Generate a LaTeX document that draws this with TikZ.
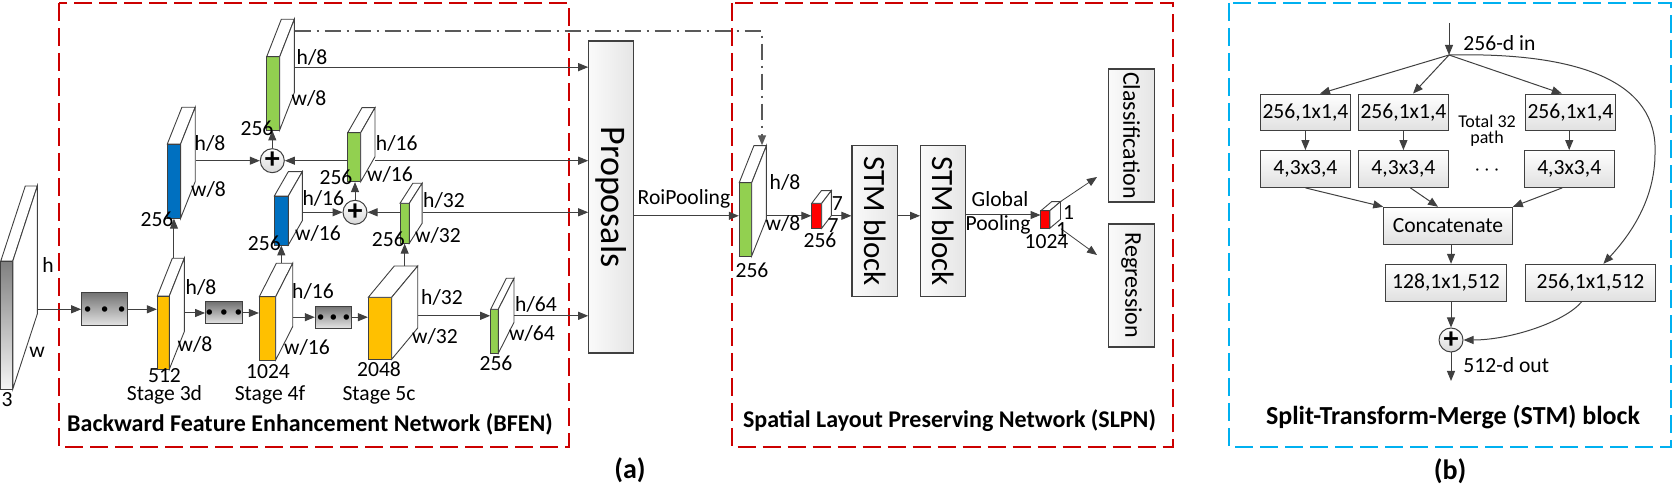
\documentclass[tikz,border=0pt]{standalone}
\usepackage{fontspec}
\setmainfont{Carlito}
\usepackage{graphicx}
\usetikzlibrary{arrows.meta,fit,positioning}
\definecolor{bfenred}{RGB}{204,0,0}
\definecolor{stmblue}{RGB}{0,176,240}
\definecolor{stageorange}{RGB}{255,192,0}
\definecolor{fmapgreen}{RGB}{146,208,80}
\definecolor{fmapblue}{RGB}{0,112,192}
\definecolor{fmapred}{RGB}{255,0,0}
\definecolor{linegray}{RGB}{64,64,64}

% feature map block: name, x, y (front top left), width, height, depth dx, depth dy, fill
\newcommand{\fmap}[8]{%
	\draw[fmapline,#8] (#2,#3) rectangle ++(#4,#5);
	\draw[fmapline,fill=white] (#2,#3) -- ++(#6,#7) -- ++(#4,0) -- ({#2+#4},#3) -- cycle;
	\draw[fmapline,fill=white] ({#2+#4},#3) -- ++(#6,#7) -- ++(0,#5) -- ({#2+#4},{#3+#5}) -- cycle;
	\node[fit={(#2,#3) ({#2+#4},{#3+#5})},inner sep=0pt] (#1) {};
	\node[fit={(#2,{#3+#7}) ({#2+#4+#6},{#3+#5})},inner sep=0pt] (#1-b) {};
}
\newcommand{\threedots}[1]{\fontsize{6}{6}\selectfont$\bullet$\hspace{#1}$\bullet$\hspace{#1}$\bullet$}

\begin{document}
\begin{tikzpicture}[x=0.5pt,y=-0.5pt,font=\fontsize{10.8}{12}\selectfont,
	fmapline/.style={draw=linegray,line width=0.45pt},
	arrowline/.style={draw=linegray,line width=0.5pt,-{Triangle[length=5pt,width=4pt]}}]
	\tikzstyle{annot}=[inner sep=0pt]
	\tikzstyle{dotsbox}=[draw=linegray,line width=0.5pt,top color=black!55,bottom color=black!10,inner sep=0pt]
	\tikzstyle{graybox}=[draw=linegray,line width=0.6pt,left color=black!2,right color=black!10,inner sep=0pt]
	\tikzstyle{stmunit}=[draw=linegray,line width=0.5pt,top color=white,bottom color=black!12,minimum height=18.4pt,inner sep=0pt]
	\tikzstyle{sumnode}=[circle,draw=linegray,line width=0.5pt,top color=white,bottom color=black!15,minimum size=12pt,inner sep=0pt,font=\fontsize{15}{15}\selectfont\bfseries]
	\tikzstyle{groupbox}=[line width=1pt,dash pattern=on 9pt off 3.5pt]
	\tikzstyle{title}=[inner sep=0pt,font=\fontsize{12}{14}\selectfont\bfseries]
	\tikzstyle{skipline}=[draw=black!65,line width=0.7pt,dash pattern=on 8pt off 3pt on 1pt off 3pt]

	\useasboundingbox (0,0) rectangle (1673,490);

	% Draw the group frames
	\draw[groupbox,draw=bfenred] (59,3) rectangle (569,447);
	\draw[groupbox,draw=bfenred] (731.5,3) rectangle (1173,447);
	\draw[groupbox,draw=stmblue] (1229,3) rectangle (1671,447);

	% Draw the backbone
	\fmap{in}{0.8}{261}{12}{128}{24.5}{-75}{top color=black!50,bottom color=black!4}
	\node[dotsbox,minimum width=23pt,minimum height=16.7pt] (d1) at (104.7,309.3) {\threedots{4.7pt}};
	\fmap{s3d}{157.3}{296}{12}{73.3}{15}{-37.7}{fill=stageorange}
	\node[dotsbox,minimum width=18.3pt,minimum height=11pt] (d2) at (223.9,313) {\threedots{3.4pt}};
	\fmap{s4f}{259.3}{296.7}{16.4}{63.3}{17}{-33.4}{fill=stageorange}
	\node[dotsbox,minimum width=18.2pt,minimum height=11.1pt] (d3) at (333.5,317.2) {\threedots{2.6pt}};
	\fmap{s5c}{368.3}{297.3}{23.4}{62}{26}{-31.3}{fill=stageorange}
	\fmap{g64}{490.6}{309.3}{7.7}{44}{15.7}{-31}{fill=fmapgreen}

	% Draw the backward branch
	\fmap{b8}{167.3}{144}{13.3}{74.3}{14.6}{-36.7}{fill=fmapblue}
	\fmap{g8}{266.7}{56.7}{13}{73.3}{14.6}{-37.4}{fill=fmapgreen}
	\fmap{g16}{347.7}{132.7}{13}{49}{14.3}{-25}{fill=fmapgreen}
	\fmap{b16}{274.3}{196}{14}{49}{14}{-24.3}{fill=fmapblue}
	\fmap{g32}{400}{203.3}{9.3}{40}{12.8}{-20}{fill=fmapgreen}
	\node[sumnode] (p1) at (272.3,160.7) {+};
	\node[sumnode] (p2) at (355,212.3) {+};

	% Draw the proposals
	\node[graybox,minimum width=22.2pt,minimum height=156pt] (prop) at (611,197) {\rotatebox{-90}{\fontsize{18}{18}\selectfont Proposals}};

	% Draw the SLPN
	\fmap{sg}{739.2}{182.7}{12.5}{73.3}{14.7}{-37}{fill=fmapgreen}
	\fmap{r7}{811.7}{203.3}{10}{25}{9.6}{-12.6}{fill=fmapred}
	\node[graybox,minimum width=22.7pt,minimum height=75.5pt] (stm1) at (874.7,221.2) {\rotatebox{-90}{\fontsize{15.5}{16}\selectfont STM block}};
	\node[graybox,minimum width=22.3pt,minimum height=75.5pt] (stm2) at (942.9,221.2) {\rotatebox{-90}{\fontsize{15.5}{16}\selectfont STM block}};
	\fmap{r1}{1040.9}{210.7}{8.9}{17.6}{10.7}{-9}{fill=fmapred}
	\node[graybox,minimum width=22.7pt,minimum height=66.5pt] (cls) at (1131.5,135.5) {\rotatebox{-90}{\fontsize{12}{12}\selectfont Classification}};
	\node[graybox,minimum width=22.7pt,minimum height=61.5pt] (reg) at (1131.5,285.5) {\rotatebox{-90}{\fontsize{12}{12}\selectfont Regression}};

	% Draw the STM block
	\coordinate (stm-in) at (1449,23);
	\coordinate (split) at (1449,55);
	\coordinate (bend) at (1655,153);
	\coordinate (stm-out) at (1451,381);
	\node[stmunit,minimum width=45pt] (b11) at (1305.4,112.5) {256,1x1,4};
	\node[stmunit,minimum width=44.6pt] (b12) at (1403.4,112.5) {256,1x1,4};
	\node[stmunit,minimum width=44.7pt] (b13) at (1570.4,112.5) {256,1x1,4};
	\node[stmunit,minimum width=45pt] (b21) at (1305.4,169) {4,3x3,4};
	\node[stmunit,minimum width=44.6pt] (b22) at (1403.4,169) {4,3x3,4};
	\node[stmunit,minimum width=44.8pt] (b23) at (1569.2,169) {4,3x3,4};
	\node[stmunit,minimum width=64.3pt] (cc) at (1448,225.7) {Concatenate};
	\node[stmunit,minimum width=60.8pt] (b128) at (1446,282.7) {128,1x1,512};
	\node[stmunit,minimum width=64.6pt] (b256) at (1590.4,282.7) {256,1x1,512};
	\node[sumnode] (p3) at (1451,340) {+};

	% Draw arrows of the backbone
	\draw[arrowline] (in-b.east |- d1.west) -- (d1.west);
	\draw[arrowline] (d1.east) -- (d1.east -| s3d.west);
	\draw[arrowline] (s3d-b.east |- d2.west) -- (d2.west);
	\draw[arrowline] (d2.east) -- (d2.east -| s4f.west);
	\draw[arrowline] (s4f-b.east |- d3.west) -- (d3.west);
	\draw[arrowline] (d3.east) -- (d3.east -| s5c.west);
	\draw[arrowline] (s5c-b.east |- g64-b.west) -- (g64-b.west);
	\draw[arrowline] (g64-b.east) -- (g64-b.east -| prop.west);

	% Draw arrows of the backward branch
	\draw[arrowline] (s3d-b.north -| b8.south) -- (b8.south);
	\draw[arrowline] (s4f-b.north -| b16.south) -- (b16.south);
	\draw[arrowline] (s5c-b.north -| g32.south) -- (g32.south);
	\draw[arrowline] (b8-b.east |- p1.west) -- (p1.west);
	\draw[arrowline] (g16.west |- p1.east) -- (p1.east);
	\draw[arrowline] (p1.north) -- (p1.north |- g8.south);
	\draw[arrowline] (b16-b.east |- p2.west) -- (p2.west);
	\draw[arrowline] (g32.west |- p2.east) -- (p2.east);
	\draw[arrowline] (p2.north) -- (p2.north |- g16.south);
	\coordinate (g8-out) at ([yshift=3.75pt]g8-b.east);
	\draw[arrowline] (g8-out) -- (g8-out -| prop.west);
	\draw[arrowline] (g16-b.east |- p1.east) -- (p1.east -| prop.west);
	\draw[arrowline] (g32-b.east |- p2.east) -- (p2.east -| prop.west);
	\coordinate (skip-turn) at (762,31);
	\draw[skipline,-{Triangle[length=5pt,width=4pt]}] (g8-b.east |- skip-turn) -- (skip-turn) -- (skip-turn |- sg-b.north);

	% Draw arrows of the SLPN
	\draw[arrowline] (prop.east |- r7.west) -- (r7.west -| sg.west);
	\draw[arrowline] (sg-b.east |- r7.west) -- (r7.west);
	\draw[arrowline] (r7-b.east |- r7.west) -- (r7.west -| stm1.west);
	\draw[arrowline] (stm1.east |- r7.west) -- (r7.west -| stm2.west);
	\draw[arrowline] (stm2.east |- r1-b.west) -- (r1-b.west);
	\coordinate (cls-in) at (1097,177);
	\coordinate (reg-in) at (1097,255);
	\draw[arrowline,line width=0.4pt] (r1-b.north east) -- (cls-in);
	\draw[arrowline,line width=0.4pt] (r1-b.south east) -- (reg-in);

	% Draw arrows of the STM block
	\draw[arrowline] (stm-in) -- (split);
	\draw[arrowline] (split) -- ([xshift=7.3pt]b11.north);
	\draw[arrowline] (split) -- ([xshift=4.8pt]b12.north);
	\draw[arrowline] (split) -- ([xshift=-4.3pt]b13.north);
	\draw[arrowline] (b11.south) -- (b21.north);
	\draw[arrowline] (b12.south) -- (b22.north);
	\draw[arrowline] (b13.south -| b23.north) -- (b23.north);
	\draw[arrowline] (b21.south) -- (cc.north west);
	\draw[arrowline] ([xshift=3.5pt]b22.south) -- ([xshift=-5pt]cc.north);
	\draw[arrowline] ([xshift=-3.5pt]b23.south) -- (cc.north east);
	\draw[arrowline] (cc.south -| p3.north) -- (p3.north |- b128.north);
	\draw[arrowline] (b128.south -| p3.north) -- (p3.north);
	\draw[arrowline] (split) .. controls (1580,52) and (1658,82) .. (bend) .. controls (1655,200) and (1630,235) .. ([xshift=6.5pt]b256.north);
	\draw[arrowline] ([xshift=-4.3pt]b256.south) .. controls (1565,322) and (1510,340) .. (p3.east);
	\draw[arrowline] (p3.south) -- (stm-out);

	% Annotate the feature maps
	\node[annot] (in-h) at (48,265) {h};
	\node[annot] (in-w) at (37,352) {w};
	\node[annot] (in-c) at (7,400) {3};
	\node[annot] (s3d-h) at (201,287) {h/8};
	\node[annot] (s3d-w) at (195,344) {w/8};
	\node[annot] (s3d-c) at (164.5,376) {512};
	\node[annot] (s3d-t) at (164.5,395) {Stage 3d};
	\node[annot] (s4f-h) at (313,291) {h/16};
	\node[annot] (s4f-w) at (307,347) {w/16};
	\node[annot] (s4f-c) at (268,372) {1024};
	\node[annot] (s4f-t) at (270,395) {Stage 4f};
	\node[annot] (s5c-h) at (442,297) {h/32};
	\node[annot] (s5c-w) at (435,336) {w/32};
	\node[annot] (s5c-c) at (379,369) {2048};
	\node[annot] (s5c-t) at (379,395) {Stage 5c};
	\node[annot] (g64-h) at (536,304) {h/64};
	\node[annot] (g64-w) at (532,333) {w/64};
	\node[annot] (g64-c) at (496,363) {256};
	\node[annot] (b8-h) at (210,143) {h/8};
	\node[annot] (b8-w) at (208.5,189) {w/8};
	\node[annot] (b8-c) at (157,219) {256};
	\node[annot] (g8-h) at (312,57) {h/8};
	\node[annot] (g8-w) at (309,98) {w/8};
	\node[annot] (g8-c) at (257,128) {256};
	\node[annot] (g16-h) at (396.7,143.3) {h/16};
	\node[annot] (g16-w) at (390,174) {w/16};
	\node[annot] (g16-c) at (336,177.7) {256};
	\node[annot] (b16-h) at (323.3,198.3) {h/16};
	\node[annot] (b16-w) at (318,233) {w/16};
	\node[annot] (b16-c) at (264.3,243) {256};
	\node[annot] (g32-h) at (444,200) {h/32};
	\node[annot] (g32-w) at (438,235) {w/32};
	\node[annot] (g32-c) at (388.3,239.3) {256};
	\node[annot] (roi) at (684,199) {RoiPooling};
	\node[annot] (sg-h) at (785,182.7) {h/8};
	\node[annot] (sg-w) at (783,223) {w/8};
	\node[annot] (sg-c) at (752,270.7) {256};
	\node[annot] (r7-h) at (837.4,203.3) {7};
	\node[annot] (r7-w) at (833,225.7) {7};
	\node[annot] (r7-c) at (820,240) {256};
	\node[annot] (gp-1) at (1000,199.3) {Global};
	\node[annot] (gp-2) at (998,224.5) {Pooling};
	\node[annot] (r1-h) at (1068.7,212.3) {1};
	\node[annot] (r1-w) at (1061.6,229.3) {1};
	\node[annot] (r1-c) at (1046.5,242) {1024};
	\node[annot,anchor=west] (stm-in-t) at (1463,43) {256-d in};
	\node[annot,anchor=west] (stm-out-t) at (1463,365) {512-d out};
	\node[annot,font=\fontsize{9}{10}\selectfont] (tot-1) at (1487,121) {Total 32};
	\node[annot,font=\fontsize{9}{10}\selectfont] (tot-2) at (1487,139) {path};
	\node[annot] (tot-3) at (1487,171) {$\cdots$};

	% Annotate the parts
	\node[title] (bfen-t) at (310,424) {Backward Feature Enhancement Network (BFEN)};
	\node[title] (slpn-t) at (949.5,421) {Spatial Layout Preserving Network (SLPN)};
	\node[title,font=\fontsize{13}{15}\selectfont\bfseries] (stm-t) at (1453,417) {Split-Transform-Merge (STM) block};
	\node[title,font=\fontsize{14}{16}\selectfont\bfseries] (cap-a) at (630,470) {(a)};
	\node[title,font=\fontsize{14}{16}\selectfont\bfseries] (cap-b) at (1450,471) {(b)};
\end{tikzpicture}
\end{document}
